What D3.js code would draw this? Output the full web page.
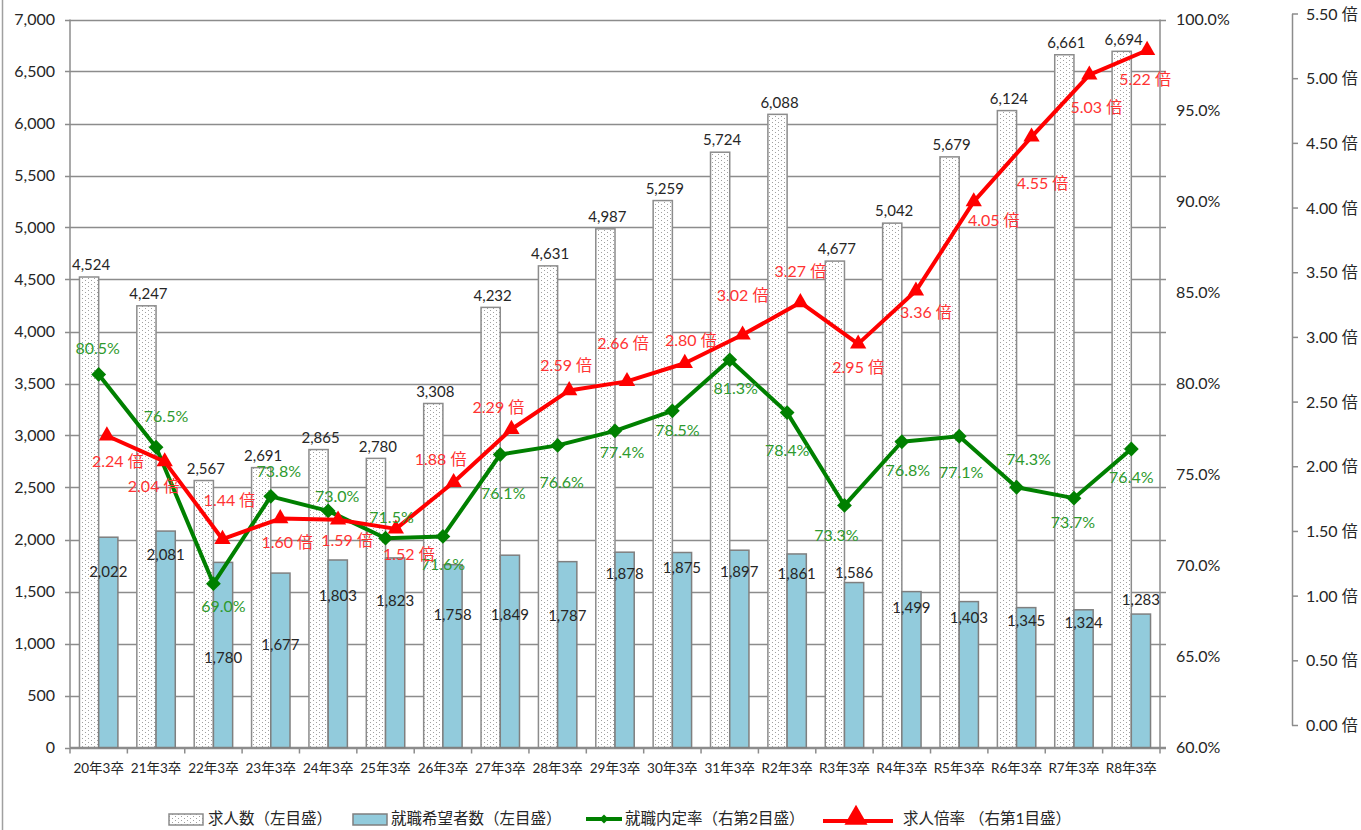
<!DOCTYPE html>
<html>
<head>
<meta charset="utf-8">
<script src="https://cdn.jsdelivr.net/npm/d3@7"></script>
<style>
  body { margin: 0; background: #fff; }
  svg text { font-family: Lato, "Noto Sans CJK JP", sans-serif; }
</style>
</head>
<body>
<div id="chart"></div>
<script>
// categories (graduation year)
var categories = ["20年3卒","21年3卒","22年3卒","23年3卒","24年3卒","25年3卒","26年3卒","27年3卒","28年3卒","29年3卒",
  "30年3卒","31年3卒","R2年3卒","R3年3卒","R4年3卒","R5年3卒","R6年3卒","R7年3卒","R8年3卒"];

// 求人数 (left axis)
var jobOffers = [4524,4247,2567,2691,2865,2780,3308,4232,4631,4987,5259,5724,6088,4677,5042,5679,6124,6661,6694];
// 就職希望者数 (left axis)
var applicants = [2022,2081,1780,1677,1803,1823,1758,1849,1787,1878,1875,1897,1861,1586,1499,1403,1345,1324,1283];
// 就職内定率 % (right 2nd axis)
var placementRate = [80.5,76.5,69.0,73.8,73.0,71.5,71.6,76.1,76.6,77.4,78.5,81.3,78.4,73.3,76.8,77.1,74.3,73.7,76.4];
// 求人倍率 (right 1st axis)
var offerRatio = [2.24,2.04,1.44,1.60,1.59,1.52,1.88,2.29,2.59,2.66,2.80,3.02,3.27,2.95,3.36,4.05,4.55,5.03,5.22];

var leftTicks = d3.range(0, 7001, 500);
var pctTicks = d3.range(60, 100.1, 5);
var ratioTicks = d3.range(0, 5.51, 0.5);

// hand placed label nudges (like the excel sheet)
var blueLabelDy = [35,24,95,72,36,43,50,60,54,22,15,22,20,-10,16,16,13,13,-14];
var greenLabelOff = [[-1,-26],[10,-31],[10,23],[8,-25],[9,-15],[6,-21],[0,28],[3,39],[4,37],[7,22],[5,20],[6,29],[0,38],[-8,30],[6,29],[2,36],[12,-28],[-1,24],[0,28]];
var redLabelOff = [[11,26],[-11,25],[7,-39],[7,24],[9,21],[13,26],[-13,-23],[-13,-22],[-3,-25],[-4,-38],[6,-23],[0,-39],[0,-31],[0,24],[10,22],[20,19],[11,47],[7,33],[-2,29]];

var width = 1361, height = 830;
var svg = d3.select("#chart").append("svg")
  .attr("width", width)
  .attr("height", height);

var defs = svg.append("defs");
var pat = defs.append("pattern")
  .attr("id", "dots")
  .attr("width", 6).attr("height", 4)
  .attr("patternUnits", "userSpaceOnUse");
pat.append("rect").attr("width", 6).attr("height", 4).attr("fill", "#fff");
pat.append("rect").attr("x", 1).attr("y", 0).attr("width", 1).attr("height", 1).attr("fill", "#a0a0a0");
pat.append("rect").attr("x", 4).attr("y", 2).attr("width", 1).attr("height", 1).attr("fill", "#a0a0a0");

var gridColor = "#8c8c8c";
var textColor = "#262626";

// left frame line of the chart area
svg.append("line")
  .attr("x1", 2.5).attr("x2", 2.5).attr("y1", 0).attr("y2", height)
  .attr("stroke", "#a0a0a0").attr("stroke-width", 1.5);

var plotLeft = 70, plotRight = 1160, plotTop = 19.5, plotBottom = 747.5;

var x = d3.scaleBand().domain(categories).range([plotLeft, plotRight]);
// the ratio series sits on its own (slightly shifted) horizontal axis in the sheet
var xRatio = d3.scaleBand().domain(categories).range([78, 1176]);
var yLeft = d3.scaleLinear().domain([0, 7000]).range([plotBottom, plotTop]);
var yPct = d3.scaleLinear().domain([60, 100]).range([plotBottom, plotTop]);
var yRatio = d3.scaleLinear().domain([0, 5.5]).range([725.5, 14]);

var barW = x.step() * 0.335;
function mid(d) { return x(d) + x.bandwidth() / 2; }
function midR(d) { return xRatio(d) + xRatio.bandwidth() / 2; }

// gridlines
svg.append("g")
  .selectAll("line")
  .data(leftTicks)
  .enter()
  .append("line")
  .attr("x1", plotLeft - 5).attr("x2", plotRight + 6)
  .attr("y1", function(d) { return Math.round(yLeft(d)) + 0.5; })
  .attr("y2", function(d) { return Math.round(yLeft(d)) + 0.5; })
  .attr("stroke", gridColor).attr("stroke-width", 1.5);

// left axis
svg.append("line")
  .attr("x1", plotLeft).attr("x2", plotLeft).attr("y1", plotTop).attr("y2", plotBottom)
  .attr("stroke", gridColor).attr("stroke-width", 1.5);
svg.append("g")
  .selectAll("text")
  .data(leftTicks)
  .enter()
  .append("text")
  .attr("x", 55)
  .attr("y", function(d) { return yLeft(d); })
  .attr("dy", "0.35em")
  .attr("text-anchor", "end")
  .attr("font-size", 16)
  .attr("fill", textColor)
  .text(function(d) { return d3.format(",")(d); });

// right axis (percent)
svg.append("line")
  .attr("x1", plotRight).attr("x2", plotRight).attr("y1", plotTop).attr("y2", plotBottom)
  .attr("stroke", gridColor).attr("stroke-width", 1.5);
svg.append("g")
  .selectAll("text")
  .data(pctTicks)
  .enter()
  .append("text")
  .attr("x", 1176)
  .attr("y", function(d) { return yPct(d); })
  .attr("dy", "0.35em")
  .attr("font-size", 16)
  .attr("fill", textColor)
  .text(function(d) { return d.toFixed(1) + "%"; });

// third axis (倍)
svg.append("line")
  .attr("x1", 1292.5).attr("x2", 1292.5).attr("y1", yRatio(5.5)).attr("y2", yRatio(0))
  .attr("stroke", gridColor).attr("stroke-width", 1.5);
var rt = svg.append("g")
  .selectAll("g")
  .data(ratioTicks)
  .enter()
  .append("g");
rt.append("line")
  .attr("x1", 1292).attr("x2", 1298)
  .attr("y1", function(d) { return yRatio(d); })
  .attr("y2", function(d) { return yRatio(d); })
  .attr("stroke", gridColor).attr("stroke-width", 1.5);
rt.append("text")
  .attr("x", 1306)
  .attr("y", function(d) { return yRatio(d); })
  .attr("dy", "0.35em")
  .attr("font-size", 16)
  .attr("fill", textColor)
  .text(function(d) { return d.toFixed(2) + " 倍"; });

// bottom axis
svg.append("line")
  .attr("x1", plotLeft).attr("x2", plotRight + 6).attr("y1", plotBottom).attr("y2", plotBottom)
  .attr("stroke", gridColor).attr("stroke-width", 1.5);
svg.append("g")
  .selectAll("line")
  .data(categories.concat(["end"]))
  .enter()
  .append("line")
  .attr("x1", function(d, i) { return plotLeft + i * x.step(); })
  .attr("x2", function(d, i) { return plotLeft + i * x.step(); })
  .attr("y1", plotBottom).attr("y2", plotBottom + 6)
  .attr("stroke", gridColor).attr("stroke-width", 1.5);
svg.append("g")
  .selectAll("text")
  .data(categories)
  .enter()
  .append("text")
  .attr("x", mid)
  .attr("y", 768)
  .attr("dy", "0.35em")
  .attr("text-anchor", "middle")
  .attr("font-size", 13.5)
  .attr("fill", textColor)
  .text(function(d) { return d; });

// bars
svg.append("g")
  .selectAll("rect")
  .data(jobOffers)
  .enter()
  .append("rect")
  .attr("x", function(d, i) { return mid(categories[i]) - barW; })
  .attr("y", function(d) { return yLeft(d); })
  .attr("width", barW)
  .attr("height", function(d) { return plotBottom - yLeft(d); })
  .attr("fill", "url(#dots)")
  .attr("stroke", "#8c8c8c").attr("stroke-width", 1.5);

svg.append("g")
  .selectAll("rect")
  .data(applicants)
  .enter()
  .append("rect")
  .attr("x", function(d, i) { return mid(categories[i]); })
  .attr("y", function(d) { return yLeft(d); })
  .attr("width", barW)
  .attr("height", function(d) { return plotBottom - yLeft(d); })
  .attr("fill", "#92cbdc")
  .attr("stroke", "#7f7f7f").attr("stroke-width", 1.5);

// lines
var greenLine = d3.line()
  .x(function(d, i) { return mid(categories[i]); })
  .y(function(d) { return yPct(d); });
svg.append("path")
  .attr("d", greenLine(placementRate))
  .attr("fill", "none").attr("stroke", "#008000").attr("stroke-width", 4)
  .attr("stroke-linejoin", "round");
svg.append("g")
  .selectAll("path")
  .data(placementRate)
  .enter()
  .append("path")
  .attr("d", d3.symbol().type(d3.symbolSquare).size(110))
  .attr("transform", function(d, i) { return "translate(" + mid(categories[i]) + "," + yPct(d) + ") rotate(45)"; })
  .attr("fill", "#008000");

var redLine = d3.line()
  .x(function(d, i) { return midR(categories[i]); })
  .y(function(d) { return yRatio(d); });
svg.append("path")
  .attr("d", redLine(offerRatio))
  .attr("fill", "none").attr("stroke", "#ff0000").attr("stroke-width", 4)
  .attr("stroke-linejoin", "round");
svg.append("g")
  .selectAll("path")
  .data(offerRatio)
  .enter()
  .append("path")
  .attr("d", d3.symbol().type(d3.symbolTriangle).size(115))
  .attr("transform", function(d, i) { return "translate(" + midR(categories[i]) + "," + yRatio(d) + ")"; })
  .attr("fill", "#ff0000");

// data labels
svg.append("g")
  .selectAll("text")
  .data(jobOffers)
  .enter()
  .append("text")
  .attr("x", function(d, i) { return mid(categories[i]) - barW / 2 + 2; })
  .attr("y", function(d) { return yLeft(d) - 12; })
  .attr("dy", "0.35em")
  .attr("text-anchor", "middle")
  .attr("font-size", 15)
  .attr("fill", textColor)
  .text(function(d) { return d3.format(",")(d); });

svg.append("g")
  .selectAll("text")
  .data(applicants)
  .enter()
  .append("text")
  .attr("x", function(d, i) { return mid(categories[i]) + barW / 2; })
  .attr("y", function(d, i) { return yLeft(d) + blueLabelDy[i]; })
  .attr("dy", "0.35em")
  .attr("text-anchor", "middle")
  .attr("font-size", 15)
  .attr("fill", textColor)
  .text(function(d) { return d3.format(",")(d); });

svg.append("g")
  .selectAll("text")
  .data(placementRate)
  .enter()
  .append("text")
  .attr("x", function(d, i) { return mid(categories[i]) + greenLabelOff[i][0]; })
  .attr("y", function(d, i) { return yPct(d) + greenLabelOff[i][1]; })
  .attr("dy", "0.35em")
  .attr("text-anchor", "middle")
  .attr("font-size", 16)
  .attr("fill", "#2e9a2e")
  .text(function(d) { return d.toFixed(1) + "%"; });

svg.append("g")
  .selectAll("text")
  .data(offerRatio)
  .enter()
  .append("text")
  .attr("x", function(d, i) { return midR(categories[i]) + redLabelOff[i][0]; })
  .attr("y", function(d, i) { return yRatio(d) + redLabelOff[i][1]; })
  .attr("dy", "0.35em")
  .attr("text-anchor", "middle")
  .attr("font-size", 16)
  .attr("fill", "#ff3333")
  .text(function(d) { return d.toFixed(2) + " 倍"; });

// legend
var legendY = 819;
var lg = svg.append("g").attr("font-size", 15.5).attr("fill", textColor);
lg.append("rect").attr("x", 169).attr("y", legendY - 5).attr("width", 34).attr("height", 11)
  .attr("fill", "url(#dots)").attr("stroke", "#8c8c8c").attr("stroke-width", 1.5);
lg.append("text").attr("x", 208).attr("y", legendY).attr("dy", "0.35em").text("求人数（左目盛）");
lg.append("rect").attr("x", 353).attr("y", legendY - 5).attr("width", 34).attr("height", 11)
  .attr("fill", "#92cbdc").attr("stroke", "#7f7f7f").attr("stroke-width", 1.5);
lg.append("text").attr("x", 391).attr("y", legendY).attr("dy", "0.35em").text("就職希望者数（左目盛）");
lg.append("line").attr("x1", 586).attr("x2", 622).attr("y1", legendY).attr("y2", legendY)
  .attr("stroke", "#008000").attr("stroke-width", 4);
lg.append("path").attr("d", d3.symbol().type(d3.symbolSquare).size(40))
  .attr("transform", "translate(604," + legendY + ") rotate(45)").attr("fill", "#008000");
lg.append("text").attr("x", 625).attr("y", legendY).attr("dy", "0.35em").text("就職内定率（右第2目盛）");
lg.append("line").attr("x1", 823).attr("x2", 893).attr("y1", legendY + 2).attr("y2", legendY + 2)
  .attr("stroke", "#ff0000").attr("stroke-width", 4);
lg.append("path").attr("d", d3.symbol().type(d3.symbolTriangle).size(230))
  .attr("transform", "translate(856," + (legendY - 1) + ")").attr("fill", "#ff0000");
lg.append("text").attr("x", 903).attr("y", legendY).attr("dy", "0.35em").text("求人倍率 （右第1目盛）");
</script>
</body>
</html>
